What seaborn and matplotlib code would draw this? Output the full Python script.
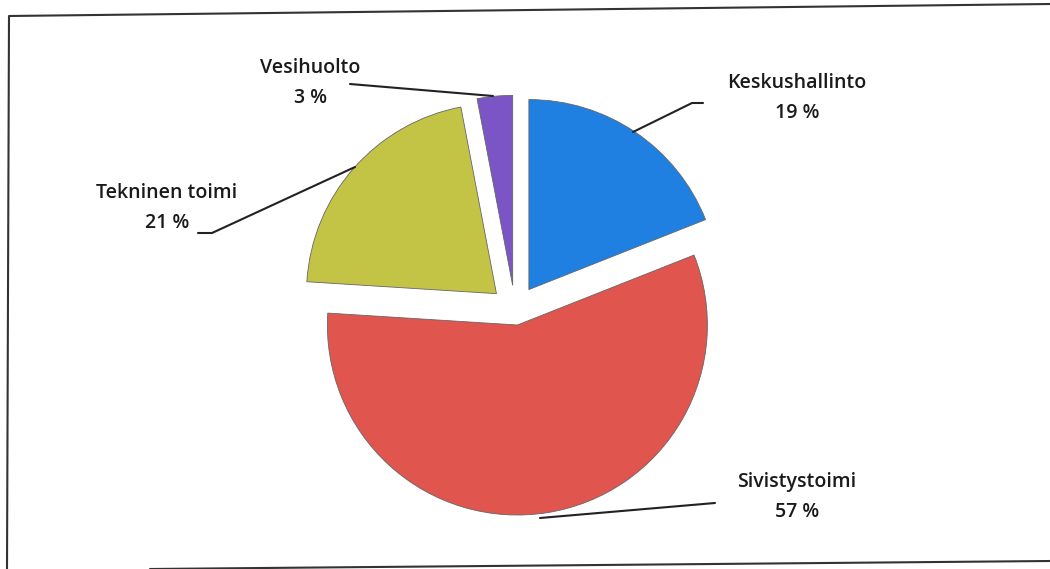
import seaborn as sns
import matplotlib.pyplot as plt

# data
labels = ["Keskushallinto", "Sivistystoimi", "Tekninen toimi", "Vesihuolto"]
shares = [19, 57, 21, 3]
colors = ["#1f80e2", "#e0554d", "#c3c445", "#7b55c6"]
explode = [0.13, 0.08, 0.13, 0.13]

sns.set_theme(style="white")
plt.rcParams['font.family'] = ['Open Sans', 'DejaVu Sans']

fig = plt.figure(figsize=(10.5, 5.69), dpi=100)
ax = fig.add_axes([0, 0, 1, 1])

R = 190
wedges, _ = ax.pie(shares, colors=colors, explode=[e * R for e in explode],
                   startangle=90, counterclock=False, radius=R, center=(515, 259),
                   wedgeprops=dict(lw=0.6, ec="#666666"), frame=True)
ax.set_xlim(0, 1050)
ax.set_ylim(0, 569)
ax.set_aspect("equal")
ax.axis("off")

# frame of the scanned page (slightly tilted, right edge cut off)
H = 569
ax.plot([1050, 9, 7], [H - 4, H - 16, 0], color="#333333", lw=1.5)
ax.plot([150, 1050], [H - 569, H - 561], color="#333333", lw=1.5)

# label positions (pixel coords, y from top)
lab_pos = [(797, 83), (797, 482), (167, 193), (310, 68)]
leaders = [
    [(633, 132), (692, 103), (703, 103)],
    [(540, 518), (715, 503)],
    [(355, 167), (212, 233), (198, 233)],
    [(493, 96), (350, 84)],
]
for lab, v, (x, y), pts in zip(labels, shares, lab_pos, leaders):
    ax.text(x, H - y, lab, ha="center", va="center",
            fontsize=14, color="#1a1a1a", fontweight="semibold")
    ax.text(x, H - y - 30, f"{v} %", ha="center", va="center",
            fontsize=14, color="#1a1a1a", fontweight="semibold")
    ax.plot([p[0] for p in pts], [H - p[1] for p in pts], color="#222222", lw=1.5)

fig.savefig("out.png", dpi=100)
